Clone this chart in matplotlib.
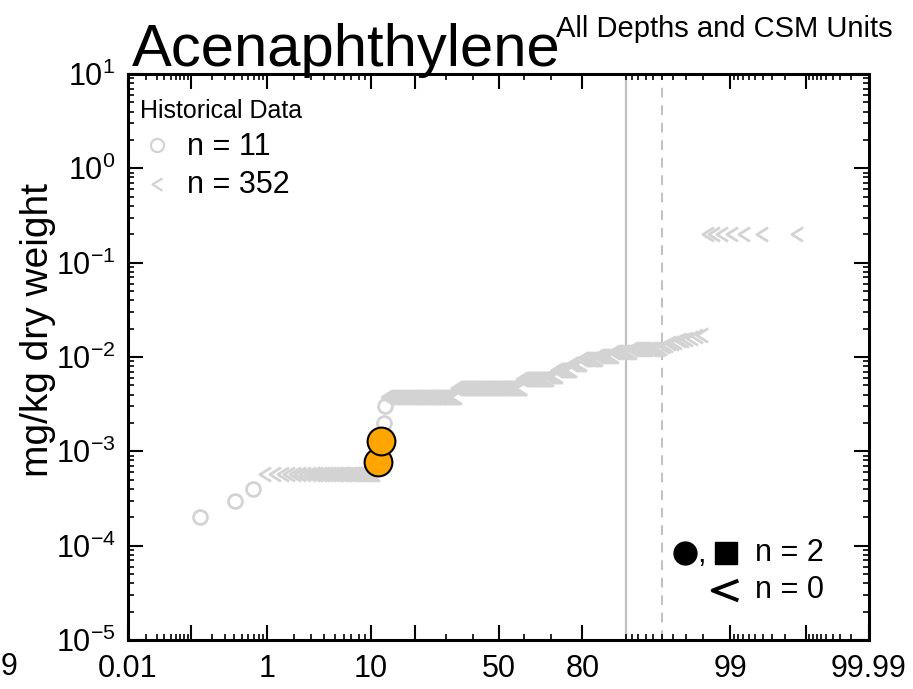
import matplotlib
matplotlib.use('Agg')
import matplotlib.pyplot as plt
from matplotlib.path import Path
import numpy as np
from statistics import NormalDist

plt.rcParams['font.family'] = ['Liberation Sans', 'DejaVu Sans']
plt.rcParams['mathtext.default'] = 'regular'

# historical detected values (open grey circles)
hist_detects = [0.0002, 0.0003, 0.0004, 0.0007, 0.0008, 0.0009, 0.001,
                0.0012, 0.0014, 0.002, 0.003]
# historical non-detects: reporting level and how many samples at it
nd_levels = [0.00057, 0.0038, 0.0047, 0.0058, 0.0063, 0.0073, 0.0084, 0.0095,
             0.0102, 0.0113, 0.0122, 0.0125, 0.013, 0.0135, 0.014, 0.0145,
             0.015, 0.0155, 0.016, 0.0165, 0.017, 0.2]
nd_counts = [36, 75, 93, 36, 11, 17, 11, 15,
             13, 12, 14, 1, 1, 1, 2, 1,
             2, 1, 1, 1, 1, 7]
# new samples (orange)
new_values = [0.00077, 0.0013]
new_pct = [11.3, 11.9]

major_pct = [0.01, 0.1, 1, 10, 20, 50, 80, 99, 99.9, 99.99]
major_lbl = ['0.01', '', '1', '10', '', '50', '80', '99', '', '99.99']
minor_pct = ([0.02, 0.03, 0.04, 0.05, 0.06, 0.07, 0.08, 0.09]
             + [0.2, 0.3, 0.4, 0.5, 0.6, 0.7, 0.8, 0.9]
             + [2, 3, 4, 5, 6, 7, 8, 9] + [30, 40, 60, 70]
             + [90, 91, 92, 93, 94, 95, 96, 97, 98]
             + [99.1, 99.2, 99.3, 99.4, 99.5, 99.6, 99.7, 99.8]
             + [99.91, 99.92, 99.93, 99.94, 99.95, 99.96, 99.97, 99.98])

nd = NormalDist()
def zp(p):
    return nd.inv_cdf(p / 100.0)

# plotting positions (Hazen) over the combined historical set
vals = np.concatenate([hist_detects, np.repeat(nd_levels, nd_counts)])
is_nd = np.concatenate([np.zeros(len(hist_detects), bool),
                        np.ones(sum(nd_counts), bool)])
order = np.argsort(vals, kind='stable')
vals, is_nd = vals[order], is_nd[order]
N = len(vals)
zpos = np.array([nd.inv_cdf((i - 0.5) / N) for i in range(1, N + 1)])

gray = '#d3d3d3'
chevron = Path([(0.8, 1), (-0.8, 0), (0.8, -1)],
               [Path.MOVETO, Path.LINETO, Path.LINETO])

fig = plt.figure(figsize=(9.13, 6.89), dpi=100)
ax = fig.add_axes([128/913, 1-640/689, 741/913, 566/689])

ax.axvline(zp(90), color='#c0c0c0', lw=1.6, zorder=1)
ax.axvline(zp(95), color='#c0c0c0', lw=1.4, ls=(0, (5, 4)), zorder=1)

ax.plot(zpos[is_nd], vals[is_nd], ls='none', marker=chevron, ms=10,
        mfc='none', mec=gray, mew=2, zorder=2)
ax.plot(zpos[~is_nd], vals[~is_nd], ls='none', marker='o', ms=10,
        mfc='none', mec=gray, mew=2, zorder=3)
ax.plot([zp(p) for p in new_pct], new_values, ls='none', marker='o', ms=20,
        mfc='orange', mec='black', mew=1.5, zorder=4)

ax.set_yscale('log')
ax.set_ylim(1e-5, 1e1)
ax.set_xlim(zp(0.01), zp(99.99))
ax.set_xticks([zp(p) for p in major_pct])
ax.set_xticklabels(major_lbl)
ax.set_xticks([zp(p) for p in minor_pct], minor=True)
ax.tick_params(which='both', direction='in', top=True, right=True,
               labelsize=22)
ax.tick_params(which='major', length=11, width=1.5)
ax.tick_params(which='minor', length=4.5, width=1.2)
ax.tick_params(axis='x', pad=10)
ax.tick_params(axis='y', pad=9)
for s in ax.spines.values():
    s.set_linewidth(2.2)

# titles and axis label
fig.text(132/913, 1-66/689, 'Acenaphthylene', fontsize=43, va='baseline')
fig.text(893/913, 1-37/689, 'All Depths and CSM Units', fontsize=21,
         ha='right', va='baseline')
fig.text(38/913, 1-330/689, 'mg/kg dry weight', fontsize=28, rotation=90,
         ha='center', va='center')
fig.text(9/913, 1-667/689, '9', fontsize=22, ha='center', va='center')

# historical legend
def axp(px, py):
    return ((px - 128) / 741, (640 - py) / 566)

ax.text(*axp(140, 111), 'Historical Data', transform=ax.transAxes,
        fontsize=18, va='center')
ax.plot(*axp(157, 145), transform=ax.transAxes, marker='o', ms=9.5,
        mfc='none', mec=gray, mew=1.6, clip_on=False)
ax.plot(*axp(157, 184), transform=ax.transAxes, marker=chevron, ms=9,
        mfc='none', mec=gray, mew=1.6, clip_on=False)
ax.text(*axp(187, 147), 'n = 11', transform=ax.transAxes, fontsize=22,
        va='center')
ax.text(*axp(187, 185), 'n = 352', transform=ax.transAxes, fontsize=22,
        va='center')

# current-data legend
ax.plot(*axp(685, 553), transform=ax.transAxes, marker='o', ms=16.5,
        color='black')
ax.text(*axp(701, 562), ',', transform=ax.transAxes, fontsize=22,
        ha='center', va='baseline')
ax.plot(*axp(726, 553), transform=ax.transAxes, marker='s', ms=15.5,
        color='black')
ax.plot(*axp(725, 590), transform=ax.transAxes,
        marker=Path([(1, 0.77), (-1, 0), (1, -0.77)],
                    [Path.MOVETO, Path.LINETO, Path.LINETO]),
        ms=18.5, mfc='none', mec='black', mew=2.8)
ax.text(*axp(755, 553), 'n = 2', transform=ax.transAxes, fontsize=22,
        va='center')
ax.text(*axp(755, 590), 'n = 0', transform=ax.transAxes, fontsize=22,
        va='center')

fig.savefig('out.png', dpi=100)
